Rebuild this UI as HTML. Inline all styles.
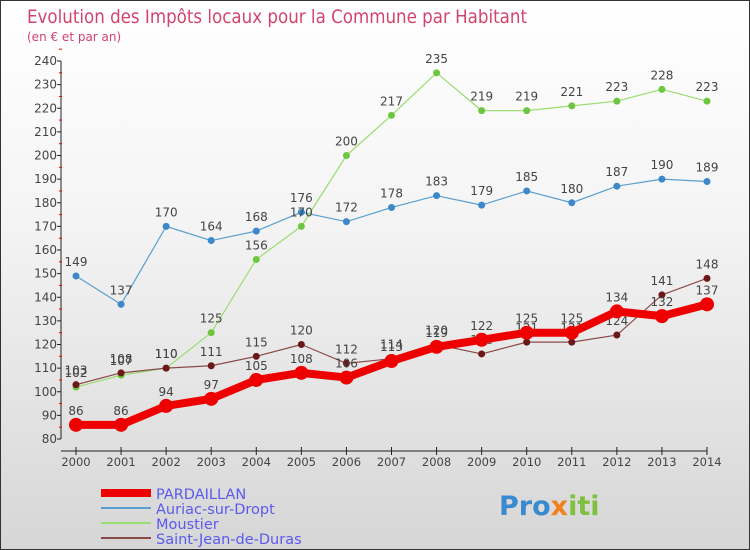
<!DOCTYPE html>
<html><head><meta charset="utf-8"><style>
body{margin:0}
#c{width:748px;height:548px;border:1px solid #333;background:linear-gradient(#fff,#f4f4f4 40%,#d6d6d6);position:relative;font-family:"DejaVu Sans","Liberation Sans",sans-serif;overflow:hidden}
svg text{font-family:"DejaVu Sans","Liberation Sans",sans-serif}
</style></head><body>
<div id="c">
<svg id="s" width="748" height="548">
<text x="26" y="22" font-size="19" fill="#d2436e" textLength="500" lengthAdjust="spacingAndGlyphs">Evolution des Impôts locaux pour la Commune par Habitant</text>
<text x="26" y="40" font-size="12" fill="#d2436e">(en € et par an)</text>
<text x="498" y="514" font-size="27" font-weight="bold" fill="#3a8ad0">Pro<tspan fill="#f08020">x</tspan><tspan fill="#80c040">iti</tspan></text>
<g id="g"></g>
</svg>
</div>
<script>
const years=[2000,2001,2002,2003,2004,2005,2006,2007,2008,2009,2010,2011,2012,2013,2014];
const pardaillan=[86,86,94,97,105,108,106,113,119,122,125,125,134,132,137];
const auriac=[149,137,170,164,168,176,172,178,183,179,185,180,187,190,189];
const moustier=[102,107,110,125,156,170,200,217,235,219,219,221,223,228,223];
const saintJean=[103,108,110,111,115,120,112,114,120,116,121,121,124,141,148];
const yTicks=[80,90,100,110,120,130,140,150,160,170,180,190,200,210,220,230,240];
const names=['PARDAILLAN','Auriac-sur-Dropt','Moustier','Saint-Jean-de-Duras'];
const NS='http://www.w3.org/2000/svg';
const g=document.getElementById('g');
const X=i=>75+i*(631/14);
const Y=v=>438-(v-80)*(378/160);
function el(t,a,p){const e=document.createElementNS(NS,t);for(const k in a)e.setAttribute(k,a[k]);(p||g).appendChild(e);return e;}
let ax=el('path',{d:'M60,60V438M60,450H706',stroke:'#222','stroke-width':1,fill:'none'});


yTicks.forEach(v=>{
 const t=el('text',{x:56,y:Y(v)+4,'font-size':12,fill:'#444','text-anchor':'end'});t.textContent=v;
 
 
 el('line',{x1:56,x2:60,y1:Y(v),y2:Y(v),stroke:'#222'});
 el('line',{x1:58,x2:61,y1:Y(v+5),y2:Y(v+5),stroke:'#e00'});
});
years.forEach((yr,i)=>{
 el('line',{x1:X(i),x2:X(i),y1:446,y2:454,stroke:'#222'});
 const t=el('text',{x:X(i),y:465,'font-size':11.5,fill:'#444','text-anchor':'middle'});t.textContent=yr;
 
 
});
const series=[[auriac,'#5a9fd0','#3c88c8',1.2,3.5],[moustier,'#9add70','#6cc640',1.2,3.5],[saintJean,'#8a4a4a','#6a1818',1.2,3.5],[pardaillan,'#ee0000','#ee0000',8,7]];
const snames=['auriac-sur-dropt','moustier','saint-jean-de-duras','pardaillan'];
series.forEach((s,k)=>{
 const [d,lc,pc,w,r]=s;
 const ln=el('polyline',{points:d.map((v,i)=>X(i)+','+Y(v)).join(' '),fill:'none',stroke:lc,'stroke-width':w,'stroke-linejoin':'round'});
 
 
 d.forEach((v,i)=>{
  const c=el('circle',{cx:X(i),cy:Y(v),r:r,fill:pc});
  
  
  const t=el('text',{x:X(i),y:Y(v)-10,'font-size':12,fill:'#444','text-anchor':'middle'});t.textContent=v;
  
  
 });
});
const lc=['#ee0000','#5a9fd0','#9add70','#8a4a4a'],lw=[8,2,2,2];
names.forEach((n,k)=>{
 const y=492+k*15;
 const l=el('line',{x1:100,x2:150,y1:y,y2:y,stroke:lc[k],'stroke-width':lw[k]});
 
 
 const t=el('text',{x:155,y:y+6,'font-size':14.5,fill:'#5a5aee'});t.textContent=n;
 
 
});
</script>
</body></html>
